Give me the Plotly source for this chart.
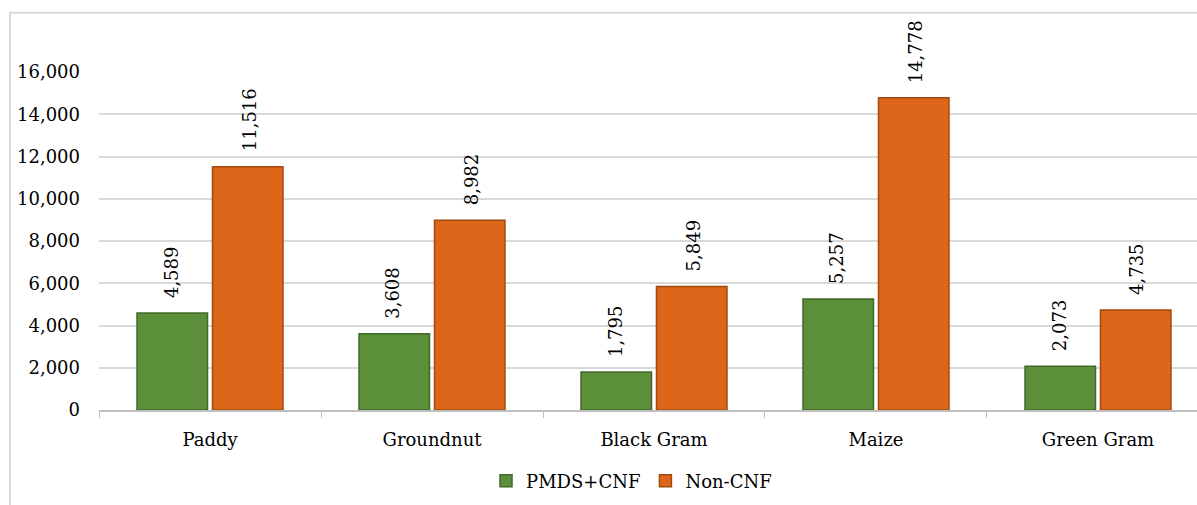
import plotly.graph_objects as go

categories = ["Paddy", "Groundnut", "Black Gram", "Maize", "Green Gram"]
pmds_cnf = [4589, 3608, 1795, 5257, 2073]
non_cnf = [11516, 8982, 5849, 14778, 4735]
y_ticks = [0, 2000, 4000, 6000, 8000, 10000, 12000, 14000, 16000]

FONT = "DejaVu Serif"
SIZE = 18

fig = go.Figure()
fig.add_trace(go.Bar(
    name="PMDS+CNF", x=categories, y=pmds_cnf,
    marker=dict(color="#5b8f3a", line=dict(color="#41692a", width=1.5)),
))
fig.add_trace(go.Bar(
    name="Non-CNF", x=categories, y=non_cnf,
    marker=dict(color="#dc661a", line=dict(color="#a14a0f", width=1.5)),
))

# rotated value labels above each bar
for vals, shift in ((pmds_cnf, -39), (non_cnf, 39)):
    for cat, v in zip(categories, vals):
        fig.add_annotation(
            x=cat, y=v, xref="x", yref="y", text=f"{v:,}",
            textangle=-90, showarrow=False, xanchor="center", yanchor="bottom",
            xshift=shift, yshift=13,
            font=dict(family=FONT, size=SIZE, color="#000000"),
        )

# outer chart frame
fig.add_shape(type="rect", xref="paper", yref="paper",
              x0=-0.081, x1=1.2, y0=-0.5, y1=1.175,
              line=dict(color="#d9d9d9", width=2), fillcolor="rgba(0,0,0,0)")

fig.update_layout(
    width=1197, height=505,
    margin=dict(l=99, r=0, t=72, b=95),
    paper_bgcolor="white", plot_bgcolor="white",
    barmode="group", bargap=0.32, bargroupgap=0.066,
    font=dict(family=FONT, size=SIZE, color="#000000"),
    showlegend=True,
    legend=dict(orientation="h", x=0.485, xanchor="center", y=-0.21, yanchor="middle",
                font=dict(family=FONT, size=SIZE), itemwidth=30, tracegroupgap=0),
    xaxis=dict(
        range=[-0.5, 4.446], showgrid=False,
        showline=True, linecolor="#bfbfbf", linewidth=1.5,
        ticks="outside", tickson="boundaries", ticklen=6, tickcolor="#bfbfbf",
        ticklabelstandoff=13, tickfont=dict(family=FONT, size=SIZE),
    ),
    yaxis=dict(
        range=[0, 16000], tickvals=y_ticks, ticktext=[f"{t:,}" for t in y_ticks],
        showgrid=True, gridcolor="#d9d9d9", gridwidth=1.5, zeroline=False,
        showline=False, ticks="", ticklabelstandoff=18,
        tickfont=dict(family=FONT, size=SIZE),
    ),
)

fig.write_html("out.html")
